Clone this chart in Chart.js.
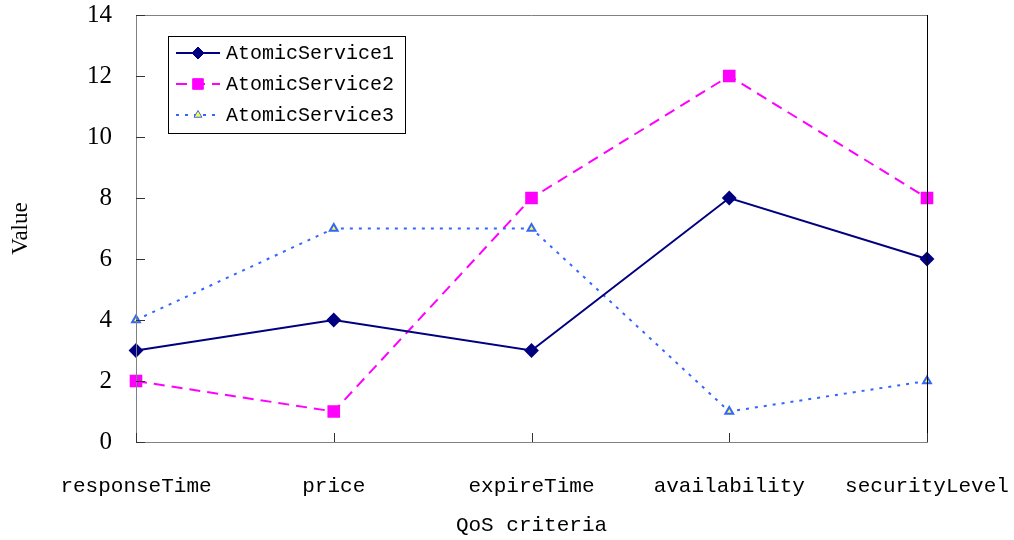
<!DOCTYPE html>
<html>
<head>
<meta charset="utf-8">
<script src="https://cdn.jsdelivr.net/npm/chart.js@4/dist/chart.umd.min.js"></script>
<style>
  html, body { margin: 0; padding: 0; background: #ffffff; }
  #wrap { width: 1014px; height: 540px; }
</style>
</head>
<body>
<div id="wrap"><canvas id="c" width="1014" height="540"></canvas></div>
<script>
// QoS criteria and the values of each atomic service
const categories = ['responseTime', 'price', 'expireTime', 'availability', 'securityLevel'];
const seriesNames = ['AtomicService1', 'AtomicService2', 'AtomicService3'];
const service1 = [3, 4, 3, 8, 6];
const service2 = [2, 1, 8, 12, 8];
const service3 = [4, 7, 7, 1, 2];
const yTicks = [0, 2, 4, 6, 8, 10, 12, 14];

const monoFont = '"Liberation Mono", "DejaVu Sans Mono", monospace';
const serifFont = '"Liberation Serif", "DejaVu Serif", serif';

// Short tick marks drawn inward from the axes, plus the plot frame
const framePlugin = {
  id: 'frame',
  afterDatasetsDraw(chart) {
    const { ctx, chartArea: a, scales } = chart;
    ctx.save();
    ctx.lineWidth = 1;
    ctx.strokeStyle = '#808080';
    ctx.beginPath();
    ctx.moveTo(a.left + 0.5, a.top);
    ctx.lineTo(a.left + 0.5, a.bottom + 0.5);
    ctx.lineTo(a.right, a.bottom + 0.5);
    ctx.moveTo(a.left, a.top + 0.5);
    ctx.lineTo(a.right, a.top + 0.5);
    ctx.stroke();
    ctx.strokeStyle = '#000000';
    ctx.beginPath();
    ctx.moveTo(a.right + 0.5, a.top);
    ctx.lineTo(a.right + 0.5, a.bottom + 0.5);
    ctx.stroke();
    ctx.strokeStyle = '#333333';
    ctx.beginPath();
    scales.y.ticks.forEach((t, i) => {
      const y = Math.round(scales.y.getPixelForTick(i)) + 0.5;
      ctx.moveTo(a.left, y);
      ctx.lineTo(a.left + 9, y);
    });
    scales.x.ticks.forEach((t, i) => {
      const x = Math.round(scales.x.getPixelForTick(i)) + 0.5;
      ctx.moveTo(x, a.bottom);
      ctx.lineTo(x, a.bottom - 9);
    });
    ctx.stroke();
    ctx.restore();
  }
};

// Marker shapes for the legend samples, sized like the chart's point styles
function drawMarker(ctx, style, x, y, r, fill, stroke) {
  ctx.save();
  ctx.fillStyle = fill;
  ctx.strokeStyle = stroke;
  ctx.lineWidth = 1;
  ctx.setLineDash([]);
  ctx.beginPath();
  if (style === 'rectRot') {
    ctx.moveTo(x, y - r); ctx.lineTo(x + r, y); ctx.lineTo(x, y + r); ctx.lineTo(x - r, y);
  } else if (style === 'rect') {
    const s = r * Math.SQRT1_2;
    ctx.rect(x - s, y - s, 2 * s, 2 * s);
  } else {
    ctx.moveTo(x, y - r); ctx.lineTo(x + r * 0.87, y + r * 0.5); ctx.lineTo(x - r * 0.87, y + r * 0.5);
  }
  ctx.closePath();
  ctx.fill();
  ctx.stroke();
  ctx.restore();
}

// Boxed legend inside the plot area
const boxLegendPlugin = {
  id: 'boxLegend',
  afterDraw(chart) {
    const { ctx, chartArea: a } = chart;
    const x0 = a.left + 32, y0 = a.top + 21, w = 237, h = 97;
    ctx.save();
    ctx.fillStyle = '#ffffff';
    ctx.fillRect(x0, y0, w, h);
    ctx.strokeStyle = '#000000';
    ctx.lineWidth = 1;
    ctx.strokeRect(x0 + 0.5, y0 + 0.5, w, h);
    ctx.font = '20px ' + monoFont;
    ctx.textBaseline = 'middle';
    chart.data.datasets.forEach((ds, i) => {
      const y = y0 + 17 + i * 31;
      ctx.strokeStyle = ds.borderColor;
      ctx.lineWidth = ds.borderWidth;
      ctx.setLineDash(ds.borderDash || []);
      ctx.beginPath();
      ctx.moveTo(x0 + 8, y);
      ctx.lineTo(x0 + 52, y);
      ctx.stroke();
      drawMarker(ctx, ds.pointStyle, x0 + 30, y, ds.pointRadius, ds.pointBackgroundColor, ds.pointBorderColor);
      ctx.fillStyle = '#000000';
      ctx.fillText(ds.label, x0 + 58, y + 1);
    });
    ctx.restore();
  }
};

new Chart(document.getElementById('c'), {
  type: 'line',
  data: {
    labels: categories,
    datasets: [
      {
        label: seriesNames[0], data: service1,
        borderColor: '#000080', borderWidth: 2, borderDash: [],
        pointStyle: 'rectRot', pointRadius: 6,
        pointBackgroundColor: '#000080', pointBorderColor: '#000080'
      },
      {
        label: seriesNames[1], data: service2,
        borderColor: '#ff00ff', borderWidth: 2, borderDash: [11, 7],
        pointStyle: 'rect', pointRadius: 7.5,
        pointBackgroundColor: '#ff00ff', pointBorderColor: '#ff00ff'
      },
      {
        label: seriesNames[2], data: service3,
        borderColor: '#3366ff', borderWidth: 2, borderDash: [3, 6],
        pointStyle: 'triangle', pointRadius: 4.5,
        pointBackgroundColor: '#ffff33', pointBorderColor: '#3366ff'
      }
    ]
  },
  options: {
    responsive: false,
    animation: false,
    devicePixelRatio: 1,
    layout: { padding: { left: 0, right: 87, top: 15, bottom: 0 } },
    elements: { line: { tension: 0, fill: false }, point: { borderWidth: 1, hoverRadius: 5 } },
    plugins: { legend: { display: false }, tooltip: { enabled: false } },
    scales: {
      x: {
        type: 'category',
        offset: false,
        grid: { display: false, drawTicks: false },
        border: { display: false },
        ticks: {
          color: '#000000', padding: 32, maxRotation: 0, autoSkip: false,
          font: { family: monoFont, size: 21 }
        },
        title: {
          display: true, text: 'QoS criteria', color: '#000000',
          font: { family: monoFont, size: 21, lineHeight: 1 },
          padding: { top: 0, bottom: 4 }
        },
        afterFit(scale) { scale.height = 98; scale.paddingLeft = 0; scale.paddingRight = 0; }
      },
      y: {
        min: 0, max: 14,
        grid: { display: false, drawTicks: false },
        border: { display: false },
        afterBuildTicks(scale) { scale.ticks = yTicks.map(v => ({ value: v })); },
        ticks: {
          color: '#000000', padding: 24,
          font: { family: serifFont, size: 25 }
        },
        title: {
          display: true, text: 'Value', color: '#000000',
          font: { family: serifFont, size: 23, lineHeight: 1 },
          padding: { top: 9, bottom: 0 }
        },
        afterFit(scale) { scale.width = 136; scale.paddingTop = 0; scale.paddingBottom = 0; }
      }
    }
  },
  plugins: [framePlugin, boxLegendPlugin]
});
</script>
</body>
</html>
